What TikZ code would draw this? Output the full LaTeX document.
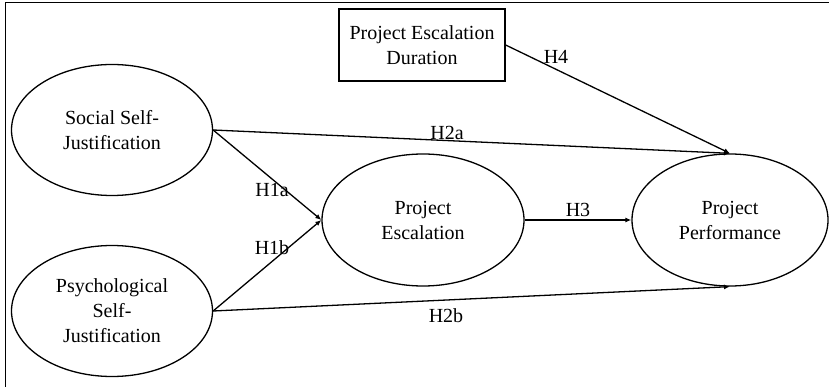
\documentclass[tikz,border=0pt]{standalone}
\usepackage{fontspec}
\setmainfont{Liberation Serif}
\usetikzlibrary{shapes.geometric,arrows.meta}
\begin{document}
\begin{tikzpicture}[x=1pt,y=-1pt,
  every node/.style={font=\fontsize{20}{25}\selectfont},
  ell/.style={draw,line width=1.3pt,ellipse,inner sep=0pt,align=center},
  box/.style={draw,line width=1.3pt,rectangle,inner sep=0pt,align=center},
  conn/.style={line width=1.3pt,-{Latex[length=6pt,width=5pt]}},
  lbl/.style={inner sep=0pt}]
\useasboundingbox (0,0) rectangle (829,387);
\draw[line width=1pt] (5,387) -- (5,3) -- (829,3);
\node[box,minimum width=166pt,minimum height=72pt] (dur) at (422,45) {Project Escalation\\Duration};
\node[ell,minimum width=201pt,minimum height=131pt] (soc) at (112,130) {Social Self-\\Justification};
\node[ell,minimum width=201pt,minimum height=131pt] (psy) at (112,311) {Psychological\\Self-\\Justification};
\node[ell,minimum width=202pt,minimum height=132pt] (esc) at (423,220) {Project\\Escalation};
\node[ell,minimum width=196pt,minimum height=132pt] (perf) at (730,220) {Project\\Performance};
\draw[conn] (dur.east) -- (perf.north);
\draw[conn] (soc.east) -- (perf.north);
\draw[conn] (soc.east) -- (esc.west);
\draw[conn] (psy.east) -- (esc.west);
\draw[conn] (esc.east) -- (perf.west);
\draw[conn] (psy.east) -- (perf.south);
\node[lbl] (h4) at (556,57) {H4};
\node[lbl] (h2a) at (447,133) {H2a};
\node[lbl] (h1a) at (272,190) {H1a};
\node[lbl] (h1b) at (272,248) {H1b};
\node[lbl] (h3) at (578,210) {H3};
\node[lbl] (h2b) at (446,316) {H2b};
\end{tikzpicture}
\end{document}
